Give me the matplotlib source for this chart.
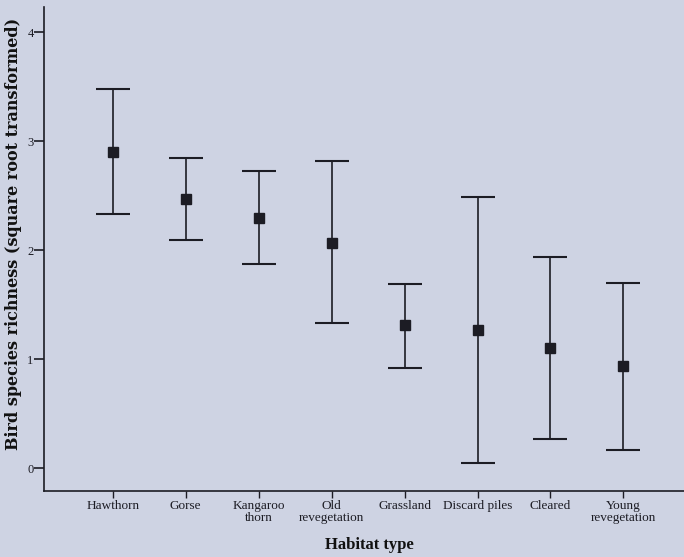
import numpy as np
import matplotlib.pyplot as plt

habitats = ['Hawthorn', 'Gorse', 'Kangaroo\nthorn', 'Old\nrevegetation', 'Grassland',
            'Discard piles', 'Cleared', 'Young\nrevegetation']
means = [2.90, 2.47, 2.30, 2.07, 1.31, 1.27, 1.10, 0.94]
upper = [3.48, 2.85, 2.73, 2.82, 1.69, 2.49, 1.94, 1.70]
lower = [2.33, 2.09, 1.87, 1.33, 0.92, 0.05, 0.27, 0.17]

bg = '#ced3e3'
ink = '#1c1c24'

fig = plt.figure(figsize=(6.84, 5.57), dpi=100, facecolor=bg)
ax = fig.add_axes([0.0643, 0.1185, 0.95, 0.8685])
ax.set_facecolor(bg)

x = np.arange(1, len(habitats) + 1)
m = np.array(means)
yerr = [m - np.array(lower), np.array(upper) - m]
ax.errorbar(x, m, yerr=yerr, fmt='s', color=ink, ms=7, elinewidth=1.2,
            capsize=12.5, capthick=1.5, ecolor=ink)

ax.set_xlim(0.058, 8.83 + (0.95 - 0.9357) / 0.9357 * 8.77)
ax.set_ylim(-0.21, 4.23)
ax.set_yticks([0, 1, 2, 3, 4])
ax.set_xticks(x)
ax.set_xticklabels(habitats, fontsize=9.5, family='Liberation Serif',
                   linespacing=0.95, color='#1a1a1a', va='top')
for lab in ax.get_yticklabels():
    lab.set_family('Liberation Serif')
ax.tick_params(axis='y', length=7, width=1.2, pad=0.5, labelsize=9, colors=ink)
ax.tick_params(axis='x', length=5, width=1.0, pad=1.5, colors=ink)

for s in ['top', 'right']:
    ax.spines[s].set_visible(False)
for s in ['left', 'bottom']:
    ax.spines[s].set_linewidth(1.2)
    ax.spines[s].set_color(ink)

ax.set_xlabel('Habitat type', fontsize=12, fontweight='bold',
              family='Liberation Serif', color='#111111', labelpad=10)
ax.set_ylabel('Bird species richness (square root transformed)', fontsize=11.5,
              fontweight='bold', family='DejaVu Serif', color='#111111')
ax.yaxis.set_label_coords(-0.034, 0.531)

fig.savefig('out.png', dpi=100, facecolor=bg)
